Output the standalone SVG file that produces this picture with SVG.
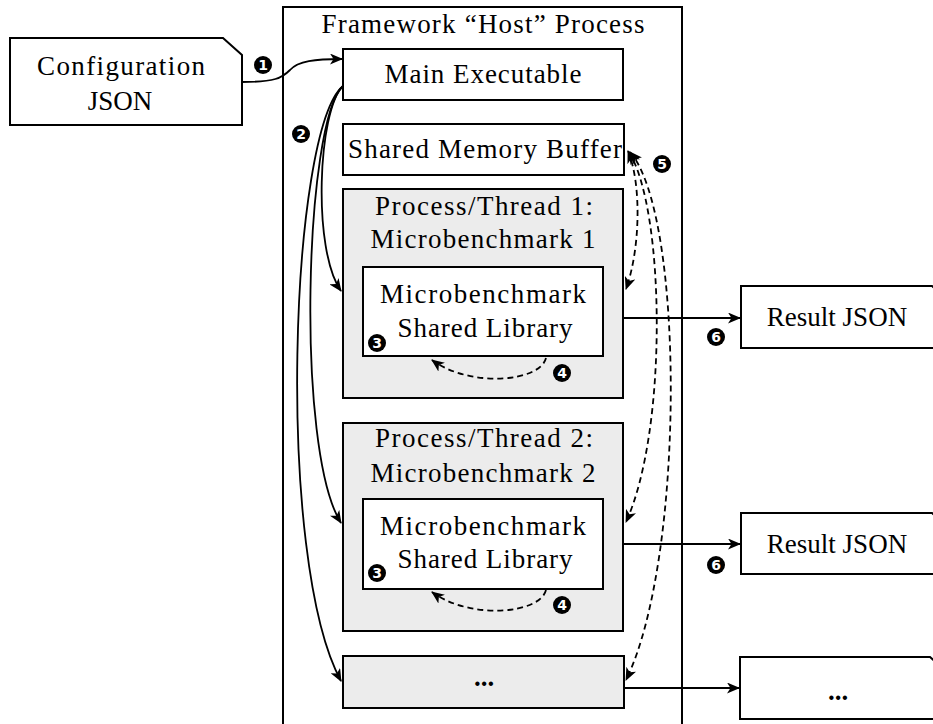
<svg xmlns="http://www.w3.org/2000/svg" width="933" height="724" viewBox="0 0 933 724">
<defs>
<style>
.box{fill:#fff;stroke:#000;stroke-width:2}
.gray{fill:#ececec;stroke:#000;stroke-width:2}
.t{font-family:"Liberation Serif","Times New Roman",serif;font-size:27px;fill:#000;text-anchor:middle}
.c{stroke:#000;stroke-width:1.8;fill:none}
.d{stroke:#000;stroke-width:1.8;fill:none;stroke-dasharray:6 4}
.dot{fill:#000}
.n{font-family:"DejaVu Sans",sans-serif;font-size:14px;font-weight:bold;fill:#fff;text-anchor:middle}
</style>
<marker id="ah" markerWidth="13" markerHeight="11" refX="12" refY="5.5" orient="auto-start-reverse" markerUnits="userSpaceOnUse" viewBox="0 0 13 11"><path d="M0,0 L13,5.5 L0,11 L3.5,5.5 z" fill="#000"/></marker>
</defs>
<rect width="933" height="724" fill="#fff"/>

<g id="host">
<rect class="box" x="283" y="7" width="399" height="730"/>
<text class="t" x="483" y="33" textLength="323" lengthAdjust="spacing">Framework “Host” Process</text>
</g>

<g id="config">
<polygon class="box" points="10,38 223,38 242,55 242,125 10,125"/>
<text class="t" x="121" y="75" textLength="168" lengthAdjust="spacing">Configuration</text>
<text class="t" x="120" y="110">JSON</text>
</g>

<g id="main">
<rect class="box" x="343" y="49" width="280" height="51"/>
<text class="t" x="483" y="83" textLength="197" lengthAdjust="spacing">Main Executable</text>
</g>

<g id="shm">
<rect class="box" x="343" y="124" width="281" height="51"/>
<text class="t" x="485" y="158" textLength="274" lengthAdjust="spacing">Shared Memory Buffer</text>
</g>

<g id="pt1">
<rect class="gray" x="343" y="189" width="280" height="209"/>
<text class="t" x="484" y="215" textLength="218" lengthAdjust="spacing">Process/Thread 1:</text>
<text class="t" x="483" y="248" textLength="225" lengthAdjust="spacing">Microbenchmark 1</text>
</g>
<g id="lib1">
<rect class="box" x="363" y="267" width="240" height="89"/>
<text class="t" x="483" y="303" textLength="206" lengthAdjust="spacing">Microbenchmark</text>
<text class="t" x="485" y="337" textLength="175" lengthAdjust="spacing">Shared Library</text>
</g>

<g id="pt2">
<rect class="gray" x="343" y="423" width="280" height="208"/>
<text class="t" x="484" y="447" textLength="218" lengthAdjust="spacing">Process/Thread 2:</text>
<text class="t" x="483" y="482" textLength="225" lengthAdjust="spacing">Microbenchmark 2</text>
</g>
<g id="lib2">
<rect class="box" x="363" y="499" width="240" height="90"/>
<text class="t" x="483" y="535" textLength="206" lengthAdjust="spacing">Microbenchmark</text>
<text class="t" x="485" y="568" textLength="175" lengthAdjust="spacing">Shared Library</text>
</g>

<g id="ptn">
<rect class="gray" x="343" y="656" width="281" height="52"/>
<text class="t" x="484" y="686" font-weight="bold">...</text>
</g>

<g id="res1">
<polygon class="box" points="741,286 932,286 951,303 951,348 741,348"/>
<text class="t" x="837" y="326">Result JSON</text>
</g>
<g id="res2">
<polygon class="box" points="741,513 932,513 951,530 951,574 741,574"/>
<text class="t" x="837" y="553">Result JSON</text>
</g>
<g id="resn">
<polygon class="box" points="740,657 930,657 949,674 949,719 740,719"/>
<text class="t" x="838" y="700" font-weight="bold">...</text>
</g>

<g id="connectors">
<path class="c" marker-end="url(#ah)" d="M242,82 C275,82 282,78 290,70 C298,61 315,59 342,59"/>
<path class="c" marker-end="url(#ah)" d="M343,86 C318,110 312,250 341,291"/>
<path class="c" marker-end="url(#ah)" d="M343,86 C305,120 295,450 341,523"/>
<path class="c" marker-end="url(#ah)" d="M343,86 C290,130 275,560 341,681"/>
<path class="d" marker-start="url(#ah)" marker-end="url(#ah)" d="M628,151 C642,185 640,250 626,289"/>
<path class="d" marker-start="url(#ah)" marker-end="url(#ah)" d="M629,152 C665,210 668,430 626,522"/>
<path class="d" marker-start="url(#ah)" marker-end="url(#ah)" d="M630,152 C685,215 685,560 626,680"/>
<path class="d" marker-end="url(#ah)" d="M546,358 C540,382 470,388 432,360"/>
<path class="d" marker-end="url(#ah)" d="M546,590 C540,614 470,620 432,592"/>
<path class="c" marker-end="url(#ah)" d="M624,318 L740,318"/>
<path class="c" marker-end="url(#ah)" d="M624,544 L740,544"/>
<path class="c" marker-end="url(#ah)" d="M624,688 L739,688"/>
</g>

<g id="labels">
<circle class="dot" cx="263" cy="65" r="9"/><text class="n" x="263" y="70">1</text>
<circle class="dot" cx="301" cy="134" r="9"/><text class="n" x="301" y="139">2</text>
<circle class="dot" cx="377" cy="343" r="9"/><text class="n" x="377" y="348">3</text>
<circle class="dot" cx="377" cy="573" r="9"/><text class="n" x="377" y="578">3</text>
<circle class="dot" cx="562" cy="373" r="9"/><text class="n" x="562" y="378">4</text>
<circle class="dot" cx="562" cy="605" r="9"/><text class="n" x="562" y="610">4</text>
<circle class="dot" cx="662" cy="164" r="9"/><text class="n" x="662" y="169">5</text>
<circle class="dot" cx="716" cy="337" r="9"/><text class="n" x="716" y="342">6</text>
<circle class="dot" cx="716" cy="565" r="9"/><text class="n" x="716" y="570">6</text>
</g>
</svg>
